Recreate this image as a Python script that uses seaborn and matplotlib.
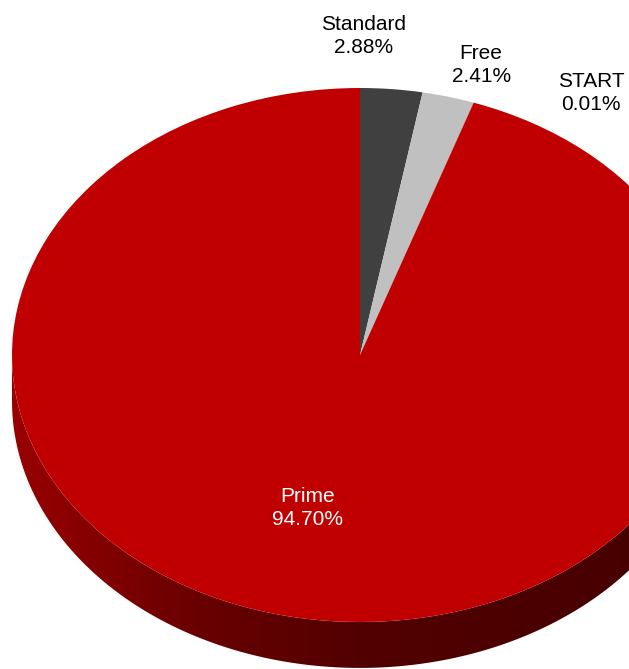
import numpy as np
import seaborn as sns
import matplotlib.pyplot as plt
from matplotlib.patches import Polygon
from matplotlib.colors import LinearSegmentedColormap

# data
categories = ["Standard", "Free", "START", "Prime"]
shares = [2.88, 2.41, 0.01, 94.70]
slice_colors = ["#404040", "#C0C0C0", "#C00000", "#C00000"]
label_colors = ["black", "black", "black", "white"]

# layout (data coords, pie radius = 1)
label_pos = [(0.011, 1.195), (0.348, 1.086), (0.664, 0.981), (-0.152, -0.573)]
DEPTH = 0.172

sns.set_style("white")
plt.rcParams["font.family"] = ["Liberation Sans", "DejaVu Sans"]

fig = plt.figure(figsize=(6.29, 6.69), dpi=100)
ax = fig.add_axes([0, 0, 1, 1])
ax.set_axis_off()

# cylinder side with horizontal shading
t = np.linspace(np.pi, 2 * np.pi, 300)
top_edge = np.column_stack([np.cos(t), np.sin(t)])
bot_edge = np.column_stack([np.cos(t[::-1]), np.sin(t[::-1]) - DEPTH])
side = Polygon(np.vstack([top_edge, bot_edge]), closed=True, facecolor="none", edgecolor="none")
ax.add_patch(side)
shade = LinearSegmentedColormap.from_list(
    "side", [(0.0, (0.60, 0, 0)), (0.25, (0.42, 0, 0)), (0.5, (0.32, 0, 0)), (1.0, (0.27, 0, 0))]
)
grad = np.linspace(0, 1, 512).reshape(1, -1)
img = ax.imshow(grad, cmap=shade, extent=[-1, 1, -1 - DEPTH, 0], aspect="auto", zorder=1)
img.set_clip_path(side)

# top face
wedges, _ = ax.pie(
    shares,
    colors=slice_colors,
    startangle=90,
    counterclock=False,
    radius=1,
    center=(0, 0),
    wedgeprops=dict(linewidth=0),
    frame=False,
)
for w in wedges:
    w.set_zorder(2)

for name, val, (lx, ly), c in zip(categories, shares, label_pos, label_colors):
    ax.text(lx, ly, f"{name}\n{val:.2f}%", ha="center", va="center",
            fontsize=15, color=c, linespacing=1.3, zorder=3)

# squash the circle into the ellipse seen in the reference
ax.set_aspect("auto")
ax.set_xlim(-360 / 348, 269 / 348)
ax.set_ylim(-314 / 267, 355 / 267)

fig.savefig("out.png", dpi=100)
